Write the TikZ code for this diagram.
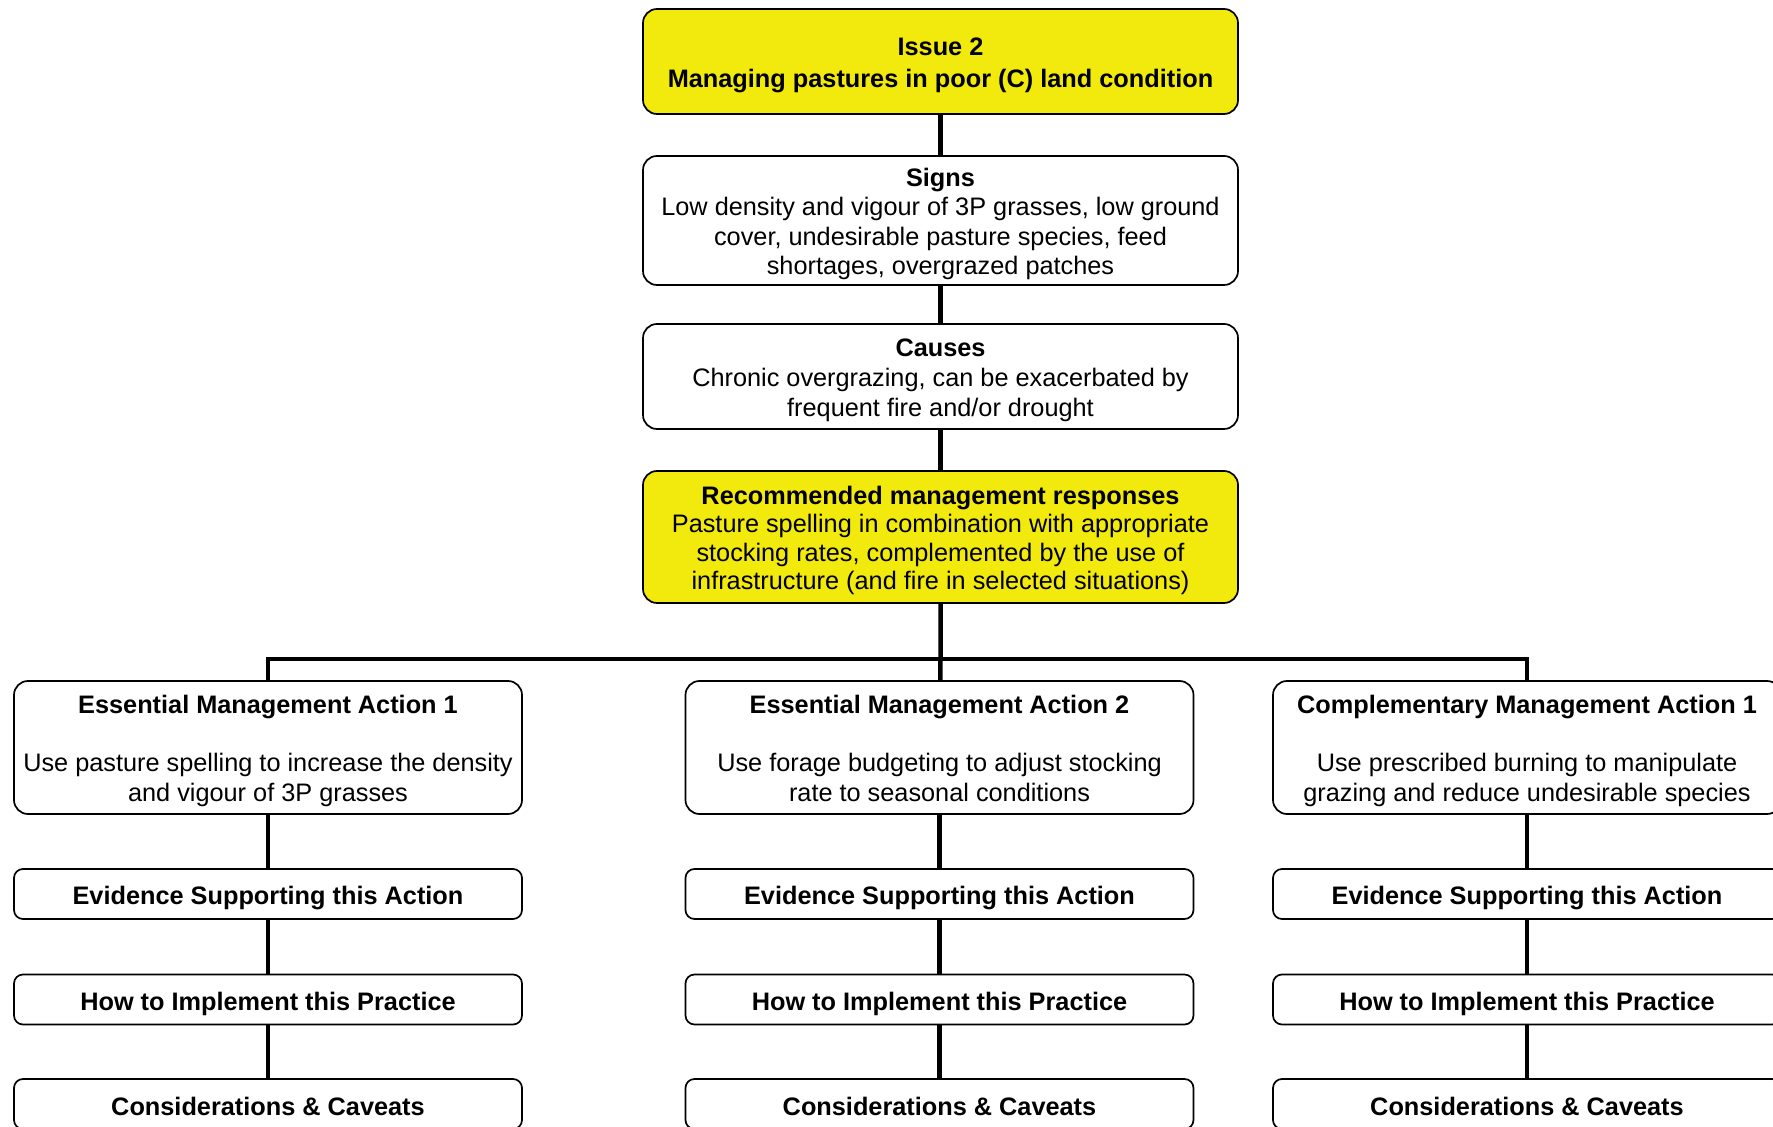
\documentclass[tikz,border=0pt]{standalone}
\usepackage{fontspec}
\setmainfont{Liberation Sans}
\definecolor{issueyellow}{RGB}{242,234,12}
\newcommand\boxstrut{\rule{0pt}{12.6pt}}
\newcommand\descstrut{\rule[-2.8pt]{0pt}{2.8pt}}

\begin{document}
\begin{tikzpicture}[x=1pt,y=1pt,
    box/.style={draw,line width=0.85pt,rounded corners=7pt,align=center,inner sep=0pt,
      font=\fontsize{12.65}{14.6}\selectfont},
    topbox/.style={box,minimum width=297.5pt},
    actbox/.style={box,minimum width=254pt,minimum height=66.5pt},
    stepbox/.style={box,rounded corners=4.5pt,minimum width=254pt,minimum height=25pt,
      text height=11.6pt,text depth=0.6pt,font=\fontsize{12.65}{14.6}\selectfont\bfseries},
    hl/.style={fill=issueyellow},
    link/.style={line width=2.25pt}]
    \useasboundingbox (0,0) rectangle (886.5,-563.5);

    \node[topbox,hl,minimum height=52.5pt,font=\fontsize{12.65}{15.8}\selectfont] (issue) at (470.25,-30.75)
      {\boxstrut\textbf{Issue 2}\\\textbf{Managing pastures in poor (C) land condition}};
    \node[topbox,minimum height=64.5pt] (signs) at (470.25,-110.25)
      {\boxstrut\textbf{Signs}\\Low density and vigour of 3P grasses, low ground\\cover, undesirable pasture species, feed\\shortages, overgrazed patches};
    \node[topbox,minimum height=52.5pt,font=\fontsize{12.65}{15}\selectfont] (causes) at (470.25,-188.25)
      {\boxstrut\textbf{Causes}\\Chronic overgrazing, can be exacerbated by\\frequent fire and/or drought};
    \node[topbox,hl,minimum height=66pt,font=\fontsize{12.65}{14.3}\selectfont] (resp) at (470.25,-268.5)
      {\boxstrut\textbf{Recommended management responses}\\Pasture spelling in combination with appropriate\\stocking rates, complemented by the use of\\infrastructure (and fire in selected situations)};

    \node[actbox] (act1) at (134,-373.75)
      {\boxstrut\textbf{Essential Management Action 1}\\[14.6pt]Use pasture spelling to increase the density\\and vigour of 3P grasses\descstrut};
    \node[actbox] (act2) at (469.75,-373.75)
      {\boxstrut\textbf{Essential Management Action 2}\\[14.6pt]Use forage budgeting to adjust stocking\\rate to seasonal conditions\descstrut};
    \node[actbox] (act3) at (763.5,-373.75)
      {\boxstrut\textbf{Complementary Management Action 1}\\[14.6pt]Use prescribed burning to manipulate\\grazing and reduce undesirable species\descstrut};

    \foreach \i/\x in {1/134,2/469.75,3/763.5} {
      \node[stepbox] (ev\i) at (\x,-447) {Evidence Supporting this Action};
      \node[stepbox] (how\i) at (\x,-499.75) {How to Implement this Practice};
      \node[stepbox] (cav\i) at (\x,-552) {Considerations \& Caveats};
      \draw[link] (act\i) -- (ev\i);
      \draw[link] (ev\i) -- (how\i);
      \draw[link] (how\i) -- (cav\i);
    }

    \coordinate (split) at (470.25,-329.5);
    \draw[link] (issue) -- (signs);
    \draw[link] (signs) -- (causes);
    \draw[link] (causes) -- (resp);
    \draw[link] (resp) -- (split) -- (act2);
    \draw[link] (act1.north) |- (split) -| (act3.north);
  \end{tikzpicture}
\end{document}
